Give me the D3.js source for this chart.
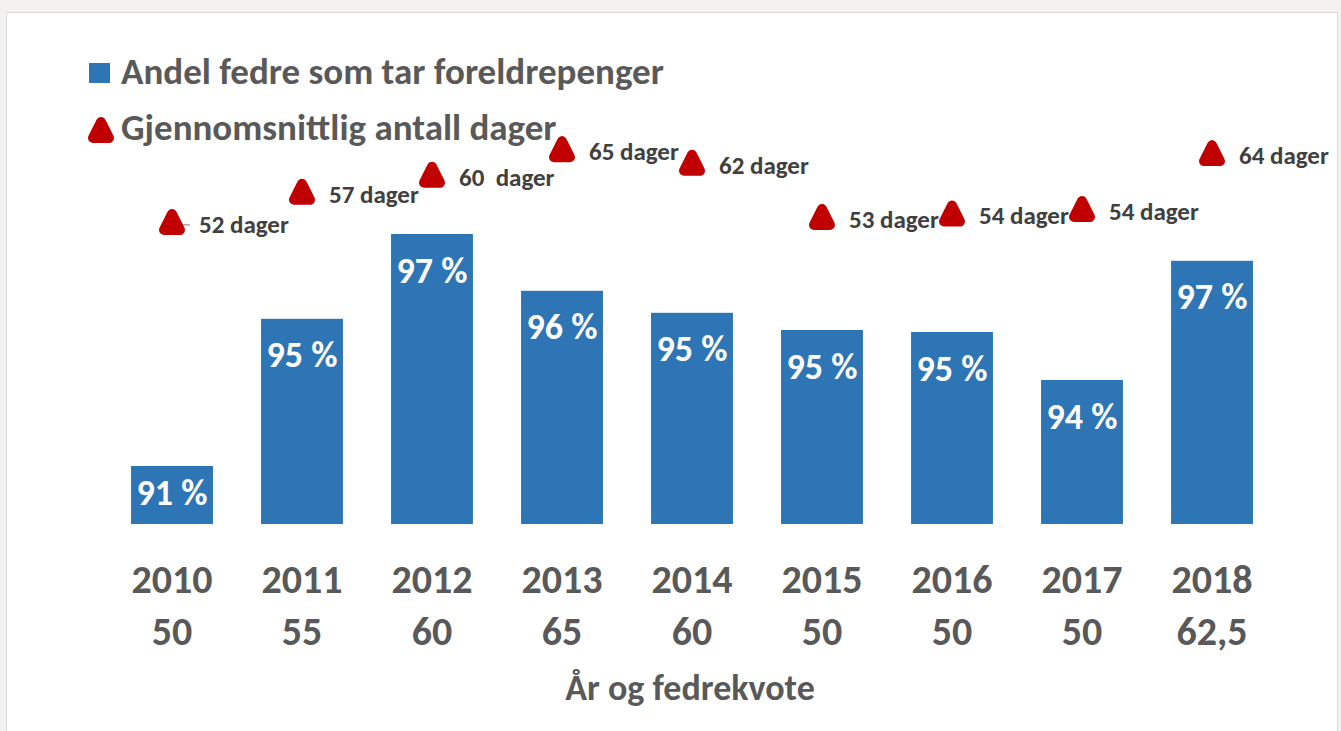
<!DOCTYPE html>
<html>
<head>
<meta charset="utf-8">
<script src="https://cdn.jsdelivr.net/npm/d3@7"></script>
<style>
  body { margin: 0; background: #f3f2f0; }
  svg { display: block; font-family: Carlito, Lato, "Open Sans", sans-serif; font-weight: bold; }
</style>
</head>
<body>
<svg width="1341" height="731"></svg>
<script>
// data
var years = ["2010", "2011", "2012", "2013", "2014", "2015", "2016", "2017", "2018"];
var quota = ["50", "55", "60", "65", "60", "50", "50", "50", "62,5"];
var share = [91.45, 95.13, 97.25, 95.83, 95.28, 94.85, 94.8, 93.6, 96.58];
var days = [52.0, 57.3, 60.3, 64.8, 62.4, 52.9, 53.5, 54.3, 64.1];
var dayLabels = ["52 dager", "57 dager", "60  dager", "65 dager", "62 dager", "53 dager", "54 dager", "54 dager", "64 dager"];

var svg = d3.select("svg"),
    width = +svg.attr("width"),
    height = +svg.attr("height");

var blue = "#2e75b6", red = "#c00000", grey = "#595959";

svg.append("rect")
  .attr("x", 6.5).attr("y", 12.5)
  .attr("width", 1331).attr("height", 730)
  .attr("fill", "white")
  .attr("stroke", "#d9d9d9");

var x = d3.scaleBand()
  .domain(years)
  .range([107, 1277])
  .paddingInner(0.37)
  .paddingOuter(0.185);

var y = d3.scaleLinear()
  .domain([90, 97.5])
  .range([524, 224]);

var yDays = d3.scaleLinear()
  .domain([52, 65])
  .range([222, 148]);

// bars
svg.selectAll(".bar")
  .data(share)
  .enter().append("rect")
  .attr("class", "bar")
  .attr("x", function(d, i) { return x(years[i]); })
  .attr("y", function(d) { return y(d); })
  .attr("width", x.bandwidth())
  .attr("height", function(d) { return y.range()[0] - y(d); })
  .attr("fill", blue);

svg.selectAll(".barlabel")
  .data(share)
  .enter().append("text")
  .attr("class", "barlabel")
  .attr("x", function(d, i) { return x(years[i]) + x.bandwidth() / 2; })
  .attr("y", function(d) { return Math.min(y(d) + 36, y.range()[0] - 32); })
  .attr("dy", "0.35em")
  .attr("text-anchor", "middle")
  .attr("fill", "white")
  .attr("font-size", 36)
  .text(function(d) { return Math.round(d) + " %"; });

// x axis with two-line labels
var xAxis = svg.append("g")
  .attr("transform", "translate(0,524)")
  .call(d3.axisBottom(x).tickSize(0).tickFormat(""));
xAxis.select(".domain").remove();

xAxis.selectAll(".tick text")
  .attr("fill", grey)
  .attr("font-size", 40)
  .attr("font-family", "Carlito, Lato, sans-serif")
  .attr("font-weight", "bold")
  .attr("y", 0)
  .attr("dy", null)
  .each(function(d, i) {
    var t = d3.select(this);
    t.append("tspan").attr("x", 0).attr("y", 69).text(d);
    t.append("tspan").attr("x", 0).attr("y", 121).text(quota[i]);
  });

svg.append("text")
  .attr("x", (x.range()[0] + x.range()[1]) / 2 - 2)
  .attr("y", 700)
  .attr("text-anchor", "middle")
  .attr("fill", grey)
  .attr("font-size", 36)
  .text("År og fedrekvote");

// markers for days (rounded triangles)
var marker = "M0,-8L8,8L-8,8Z";

svg.append("line")
  .attr("x1", x(years[0]) + x.bandwidth() / 2 + 2)
  .attr("y1", yDays(days[0]) + 2)
  .attr("x2", x(years[0]) + x.bandwidth() / 2 + 18)
  .attr("y2", yDays(days[0]) + 3)
  .attr("stroke", "#a6a6a6")
  .attr("stroke-width", 1.5);

svg.selectAll(".dot")
  .data(days)
  .enter().append("path")
  .attr("class", "dot")
  .attr("transform", function(d, i) { return "translate(" + (x(years[i]) + x.bandwidth() / 2) + "," + yDays(d) + ")"; })
  .attr("d", marker)
  .attr("fill", red)
  .attr("stroke", red)
  .attr("stroke-width", 10)
  .attr("stroke-linejoin", "round");

svg.selectAll(".daylabel")
  .data(days)
  .enter().append("text")
  .attr("class", "daylabel")
  .attr("x", function(d, i) { return x(years[i]) + x.bandwidth() / 2 + 27; })
  .attr("y", function(d) { return yDays(d) + 11; })
  .attr("fill", "#404040")
  .attr("font-size", 25)
  .style("white-space", "pre")
  .text(function(d, i) { return dayLabels[i]; });

// legend
svg.append("rect")
  .attr("x", 89).attr("y", 63)
  .attr("width", 21).attr("height", 20)
  .attr("fill", blue);

svg.append("text")
  .attr("x", 121).attr("y", 84)
  .attr("fill", grey)
  .attr("font-size", 37)
  .text("Andel fedre som tar foreldrepenger");

svg.append("path")
  .attr("transform", "translate(101,130)")
  .attr("d", marker)
  .attr("fill", red)
  .attr("stroke", red)
  .attr("stroke-width", 10)
  .attr("stroke-linejoin", "round");

svg.append("text")
  .attr("x", 121).attr("y", 140)
  .attr("fill", grey)
  .attr("font-size", 37)
  .text("Gjennomsnittlig antall dager");
</script>
</body>
</html>
